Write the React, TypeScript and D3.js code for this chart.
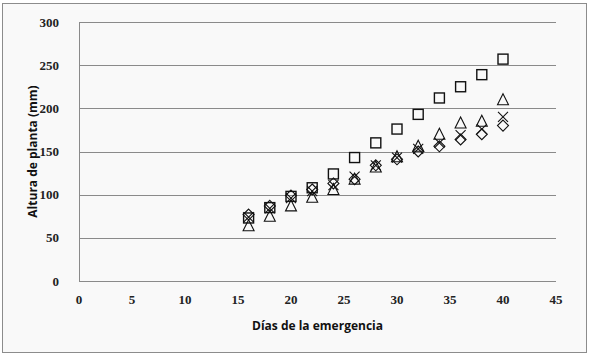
import React from "react";
import * as d3 from "d3";

const days = [16, 18, 20, 22, 24, 26, 28, 30, 32, 34, 36, 38, 40];
const squareVals = [73, 85, 98, 108, 124, 143, 160, 176, 193, 212, 225, 239, 257];
const triangleVals = [64, 75, 87, 97, 106, 118, 132, 144, 156, 170, 183, 185, 210];
const crossVals = [74, 84, 96, 104, 111, 121, 134, 143, 153, 160, 169, 176, 190];
const diamondVals = [77, 87, 99, 106, 113, 118, 134, 141, 150, 156, 164, 170, 180];
const xTicks = [0, 5, 10, 15, 20, 25, 30, 35, 40, 45];
const yTicks = [0, 50, 100, 150, 200, 250, 300];

const W = 590, H = 356;
const left = 79, right = 556, top = 22, bottom = 281;

export default function App() {
  const x = d3.scaleLinear().domain([0, 45]).range([left, right]);
  const y = d3.scaleLinear().domain([0, 300]).range([bottom, top]);
  const stroke = "#111";
  const sw = 1.4;

  const square = (cx: number, cy: number, k: string) => (
    <rect key={k} x={cx - 5} y={cy - 5} width={10} height={10} fill="none" stroke={stroke} strokeWidth={sw} />
  );
  const triangle = (cx: number, cy: number, k: string) => (
    <path key={k} d={`M${cx},${cy - 6}L${cx + 5.5},${cy + 5}L${cx - 5.5},${cy + 5}Z`} fill="none" stroke={stroke} strokeWidth={1.1} />
  );
  const cross = (cx: number, cy: number, k: string) => (
    <path key={k} d={`M${cx - 5},${cy - 5}L${cx + 5},${cy + 5}M${cx + 5},${cy - 5}L${cx - 5},${cy + 5}`} fill="none" stroke={stroke} strokeWidth={1.1} />
  );
  const diamond = (cx: number, cy: number, k: string) => (
    <path key={k} d={`M${cx},${cy - 5.5}L${cx + 5.5},${cy}L${cx},${cy + 5.5}L${cx - 5.5},${cy}Z`} fill="none" stroke={stroke} strokeWidth={1.1} />
  );

  const tickStyle: React.CSSProperties = { fontFamily: "'Liberation Serif', 'DejaVu Serif', serif", fontWeight: 700, fontSize: "13px" };
  const titleStyle: React.CSSProperties = { fontFamily: "'Open Sans', 'Liberation Sans', sans-serif", fontWeight: 700, fontSize: "12px" };

  return (
    <svg width={W} height={H} style={{ position: "absolute", left: 0, top: 0 }}>
      <rect x={2.5} y={3.5} width={584} height={349} fill="#f9f9f9" stroke="#8c8c8c" strokeWidth={1} />
      {yTicks.map((t) => (
        <g key={"y" + t}>
          {t > 0 && <line x1={left} x2={right} y1={Math.round(y(t)) + 0.5} y2={Math.round(y(t)) + 0.5} stroke="#8a8a8a" strokeWidth={1} />}
          <text x={59} y={y(t)} dy="0.35em" textAnchor="end" style={tickStyle} fill="#222">{t}</text>
        </g>
      ))}
      <line x1={left + 0.5} x2={left + 0.5} y1={top} y2={bottom} stroke="#8a8a8a" />
      <line x1={left} x2={right} y1={bottom + 0.5} y2={bottom + 0.5} stroke="#8a8a8a" />
      {xTicks.map((t) => (
        <text key={"x" + t} x={x(t)} y={299} dy="0.35em" textAnchor="middle" style={tickStyle} fill="#222">{t}</text>
      ))}
      <text x={(left + right) / 2} y={326} dy="0.35em" textAnchor="middle" style={titleStyle} fill="#111">Días de la emergencia</text>
      <text transform={`translate(33,${(top + bottom) / 2}) rotate(-90)`} dy="0.35em" textAnchor="middle" style={titleStyle} fill="#111">Altura de planta (mm)</text>
      <g>
        {days.map((d, i) => diamond(x(d), y(diamondVals[i]), "d" + i))}
        {days.map((d, i) => cross(x(d), y(crossVals[i]), "c" + i))}
        {days.map((d, i) => triangle(x(d), y(triangleVals[i]), "t" + i))}
        {days.map((d, i) => square(x(d), y(squareVals[i]), "s" + i))}
      </g>
    </svg>
  );
}
